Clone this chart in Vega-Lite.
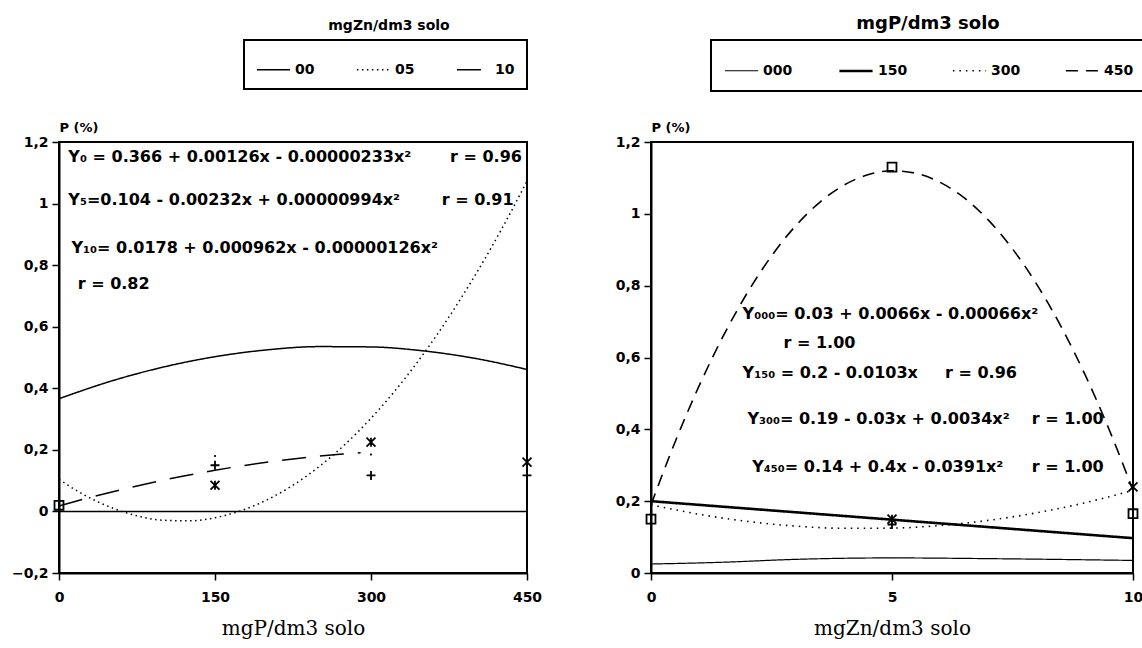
{
  "$schema": "https://vega.github.io/schema/vega-lite/v6.json",
  "background": "white",
  "padding": {"left": 10, "top": 14, "right": 0, "bottom": 0},
  "spacing": 71,
  "resolve": {
    "scale": {"strokeDash": "independent", "strokeWidth": "independent", "shape": "independent"},
    "legend": {"strokeDash": "independent", "strokeWidth": "independent", "shape": "independent"}
  },
  "datasets": {
    "leftLines": [
      {"x": 0, "y": 0.366, "s": "00"}, {"x": 50, "y": 0.4232, "s": "00"}, {"x": 100, "y": 0.4687, "s": "00"},
      {"x": 150, "y": 0.5026, "s": "00"}, {"x": 200, "y": 0.5248, "s": "00"}, {"x": 250, "y": 0.5354, "s": "00"},
      {"x": 300, "y": 0.5343, "s": "00"}, {"x": 350, "y": 0.5216, "s": "00"}, {"x": 400, "y": 0.4972, "s": "00"},
      {"x": 450, "y": 0.4612, "s": "00"},
      {"x": 0, "y": 0.104, "s": "05"}, {"x": 25, "y": 0.0522, "s": "05"}, {"x": 50, "y": 0.0129, "s": "05"},
      {"x": 75, "y": -0.0141, "s": "05"}, {"x": 100, "y": -0.0286, "s": "05"}, {"x": 125, "y": -0.0307, "s": "05"},
      {"x": 150, "y": -0.0204, "s": "05"}, {"x": 175, "y": 0.0024, "s": "05"}, {"x": 200, "y": 0.0376, "s": "05"},
      {"x": 225, "y": 0.0852, "s": "05"}, {"x": 250, "y": 0.1453, "s": "05"}, {"x": 275, "y": 0.2177, "s": "05"},
      {"x": 300, "y": 0.3026, "s": "05"}, {"x": 325, "y": 0.3999, "s": "05"}, {"x": 350, "y": 0.5097, "s": "05"},
      {"x": 375, "y": 0.6318, "s": "05"}, {"x": 400, "y": 0.7664, "s": "05"}, {"x": 425, "y": 0.9134, "s": "05"},
      {"x": 450, "y": 1.0729, "s": "05"},
      {"x": 0, "y": 0.0178, "s": "10"}, {"x": 30, "y": 0.0455, "s": "10"}, {"x": 60, "y": 0.071, "s": "10"},
      {"x": 90, "y": 0.0942, "s": "10"}, {"x": 120, "y": 0.1151, "s": "10"}, {"x": 150, "y": 0.1338, "s": "10"},
      {"x": 180, "y": 0.1501, "s": "10"}, {"x": 210, "y": 0.1643, "s": "10"}, {"x": 240, "y": 0.1761, "s": "10"},
      {"x": 270, "y": 0.1857, "s": "10"}, {"x": 290, "y": 0.1908, "s": "10"}
    ],
    "leftPts": [
      {"x": 0, "y": 0.02, "m": "sq"},
      {"x": 150, "y": 0.15, "m": "plus"}, {"x": 150, "y": 0.18, "m": "dot"}, {"x": 150, "y": 0.085, "m": "ast"},
      {"x": 300, "y": 0.225, "m": "ast"}, {"x": 300, "y": 0.185, "m": "dot"}, {"x": 300, "y": 0.117, "m": "plus"},
      {"x": 450, "y": 0.16, "m": "ast"}, {"x": 450, "y": 0.117, "m": "plus"}
    ],
    "leftText": [
      {"x": 9, "y": 1.15, "t": "Y₀ = 0.366 + 0.00126x - 0.00000233x²"},
      {"x": 376, "y": 1.15, "t": "r = 0.96"},
      {"x": 9, "y": 1.01, "t": "Y₅=0.104 - 0.00232x + 0.00000994x²"},
      {"x": 368, "y": 1.01, "t": "r = 0.91"},
      {"x": 12, "y": 0.855, "t": "Y₁₀= 0.0178 + 0.000962x - 0.00000126x²"},
      {"x": 18, "y": 0.74, "t": "r = 0.82"}
    ],
    "rightLines": [
      {"x": 0, "y": 0.025, "s": "000"}, {"x": 1.5, "y": 0.03, "s": "000"}, {"x": 3, "y": 0.038, "s": "000"},
      {"x": 5, "y": 0.042, "s": "000"}, {"x": 7, "y": 0.04, "s": "000"}, {"x": 10, "y": 0.035, "s": "000"},
      {"x": 0, "y": 0.2, "s": "150"}, {"x": 10, "y": 0.097, "s": "150"},
      {"x": 0, "y": 0.19, "s": "300"}, {"x": 1, "y": 0.1634, "s": "300"}, {"x": 2, "y": 0.1436, "s": "300"},
      {"x": 3, "y": 0.1306, "s": "300"}, {"x": 4, "y": 0.1244, "s": "300"}, {"x": 5, "y": 0.125, "s": "300"},
      {"x": 6, "y": 0.1324, "s": "300"}, {"x": 7, "y": 0.1466, "s": "300"}, {"x": 8, "y": 0.1676, "s": "300"},
      {"x": 9, "y": 0.1954, "s": "300"}, {"x": 10, "y": 0.23, "s": "300"},
      {"x": 0, "y": 0.19, "s": "450"}, {"x": 0.5, "y": 0.3649, "s": "450"}, {"x": 1, "y": 0.5216, "s": "450"},
      {"x": 1.5, "y": 0.6601, "s": "450"}, {"x": 2, "y": 0.7804, "s": "450"}, {"x": 2.5, "y": 0.8825, "s": "450"},
      {"x": 3, "y": 0.9664, "s": "450"}, {"x": 3.5, "y": 1.0321, "s": "450"}, {"x": 4, "y": 1.0796, "s": "450"},
      {"x": 4.5, "y": 1.1089, "s": "450"}, {"x": 5, "y": 1.12, "s": "450"}, {"x": 5.5, "y": 1.1129, "s": "450"},
      {"x": 6, "y": 1.0876, "s": "450"}, {"x": 6.5, "y": 1.0441, "s": "450"}, {"x": 7, "y": 0.9824, "s": "450"},
      {"x": 7.5, "y": 0.9025, "s": "450"}, {"x": 8, "y": 0.8044, "s": "450"}, {"x": 8.5, "y": 0.6881, "s": "450"},
      {"x": 9, "y": 0.5536, "s": "450"}, {"x": 9.5, "y": 0.4009, "s": "450"}, {"x": 10, "y": 0.23, "s": "450"}
    ],
    "rightPts": [
      {"x": 0, "y": 0.15, "m": "sq"},
      {"x": 5, "y": 1.13, "m": "sq"}, {"x": 5, "y": 0.15, "m": "ast"}, {"x": 5, "y": 0.135, "m": "plus"},
      {"x": 10, "y": 0.24, "m": "x"}, {"x": 10, "y": 0.165, "m": "sq"}
    ],
    "rightText": [
      {"x": 1.9, "y": 0.72, "t": "Y₀₀₀= 0.03 + 0.0066x - 0.00066x²"},
      {"x": 2.75, "y": 0.64, "t": "r = 1.00"},
      {"x": 1.9, "y": 0.557, "t": "Y₁₅₀ = 0.2 - 0.0103x"},
      {"x": 6.1, "y": 0.557, "t": "r = 0.96"},
      {"x": 2.0, "y": 0.43, "t": "Y₃₀₀= 0.19 - 0.03x + 0.0034x²"},
      {"x": 7.9, "y": 0.43, "t": "r = 1.00"},
      {"x": 2.1, "y": 0.295, "t": "Y₄₅₀= 0.14 + 0.4x - 0.0391x²"},
      {"x": 7.9, "y": 0.295, "t": "r = 1.00"}
    ],
    "zero": [{"y": 0}]
  },
  "config": {
    "font": "DejaVu Sans",
    "view": {"stroke": "black", "strokeWidth": 2},
    "axis": {
      "grid": false, "domainColor": "black", "domainWidth": 2, "tickColor": "black", "tickWidth": 1.5,
      "tickSize": 7, "labelFont": "DejaVu Sans", "labelFontWeight": "bold", "labelFontSize": 14,
      "labelColor": "black", "titleColor": "black"
    },
    "legend": {
      "orient": "none", "direction": "horizontal", "symbolType": "stroke", "symbolStrokeColor": "black",
      "symbolStrokeWidth": 1.5, "symbolSize": 1100, "labelFont": "DejaVu Sans", "labelFontWeight": "bold",
      "labelFontSize": 14, "labelColor": "black", "labelOffset": 4, "strokeColor": "black", "fillColor": "white"
    }
  },
  "hconcat": [
    {
      "width": 468, "height": 431,
      "title": {"text": "mgZn/dm3 solo", "anchor": "middle", "dx": 96, "offset": 6, "font": "DejaVu Sans", "fontSize": 14, "fontWeight": "bold", "color": "black"},
      "layer": [
        {
          "data": {"name": "leftLines"},
          "mark": {"type": "line", "color": "black", "strokeWidth": 1.5, "interpolate": "monotone"},
          "encoding": {
            "x": {"field": "x", "type": "quantitative", "scale": {"domain": [0, 450], "nice": false},
              "axis": {"values": [0, 150, 300, 450], "title": "mgP/dm3 solo", "titleFont": "DejaVu Serif", "titleFontSize": 20, "titleFontWeight": "normal", "labelPadding": 10, "titlePadding": 14, "labelFlush": false}},
            "y": {"field": "y", "type": "quantitative", "scale": {"domain": [-0.2, 1.2], "nice": false},
              "axis": {"values": [-0.2, 0, 0.2, 0.4, 0.6, 0.8, 1, 1.2], "labelExpr": "replace(format(datum.value, '~g'), '.', ',')", "labelPadding": 4,
                "title": "P (%)", "titleAngle": 0, "titleAlign": "left", "titleBaseline": "bottom", "titleX": 0, "titleY": -8, "titleFont": "DejaVu Sans", "titleFontSize": 13, "titleFontWeight": "bold"}},
            "strokeDash": {"field": "s", "type": "nominal",
              "scale": {"domain": ["00", "05", "10"], "range": [[1, 0], [1.5, 3.5], [24, 14]]},
              "legend": {"title": null, "legendX": 185, "legendY": -102, "padding": 12, "columnPadding": 38,
                "encode": {"legend": {"update": {"strokeWidth": {"value": 2}}}}}}
          }
        },
        {
          "data": {"name": "zero"},
          "mark": {"type": "rule", "color": "black", "strokeWidth": 1.5},
          "encoding": {"y": {"field": "y", "type": "quantitative"}}
        },
        {
          "data": {"name": "leftPts"},
          "mark": {"type": "point", "filled": false, "color": "black", "strokeWidth": 1.8, "size": 80, "opacity": 1},
          "encoding": {
            "x": {"field": "x", "type": "quantitative"},
            "y": {"field": "y", "type": "quantitative"},
            "shape": {"field": "m", "type": "nominal", "legend": null,
              "scale": {"domain": ["sq", "plus", "ast", "dot", "x"],
                "range": ["square", "M-1,0H1M0,-1V1", "M-1,-1L1,1M-1,1L1,-1M0,-1V1", "M-0.15,0H0.15M0,-0.15V0.15", "M-1,-1L1,1M-1,1L1,-1"]}}
          }
        },
        {
          "data": {"name": "leftText"},
          "mark": {"type": "text", "align": "left", "baseline": "middle", "font": "DejaVu Sans", "fontWeight": "bold", "fontSize": 16, "color": "black"},
          "encoding": {
            "x": {"field": "x", "type": "quantitative"},
            "y": {"field": "y", "type": "quantitative"},
            "text": {"field": "t"}
          }
        }
      ]
    },
    {
      "width": 482, "height": 431,
      "title": {"text": "mgP/dm3 solo", "anchor": "middle", "dx": 36, "offset": 6, "font": "DejaVu Sans", "fontSize": 18, "fontWeight": "bold", "color": "black"},
      "layer": [
        {
          "data": {"name": "rightLines"},
          "mark": {"type": "line", "color": "black", "interpolate": "monotone"},
          "encoding": {
            "x": {"field": "x", "type": "quantitative", "scale": {"domain": [0, 10], "nice": false},
              "axis": {"values": [0, 5, 10], "title": "mgZn/dm3 solo", "titleFont": "DejaVu Serif", "titleFontSize": 20, "titleFontWeight": "normal", "labelPadding": 10, "titlePadding": 14, "labelFlush": false}},
            "y": {"field": "y", "type": "quantitative", "scale": {"domain": [0, 1.2], "nice": false},
              "axis": {"values": [0, 0.2, 0.4, 0.6, 0.8, 1, 1.2], "labelExpr": "replace(format(datum.value, '~g'), '.', ',')", "labelPadding": 4,
                "title": "P (%)", "titleAngle": 0, "titleAlign": "left", "titleBaseline": "bottom", "titleX": 0, "titleY": -8, "titleFont": "DejaVu Sans", "titleFontSize": 13, "titleFontWeight": "bold"}},
            "strokeDash": {"field": "s", "type": "nominal",
              "scale": {"domain": ["000", "150", "300", "450"], "range": [[1, 0], [1, 0], [1.5, 5], [12, 8]]},
              "legend": {"title": null, "legendX": 60, "legendY": -102, "padding": 13, "columnPadding": 41,
                "encode": {"legend": {"update": {"strokeWidth": {"value": 2}}}}}},
            "strokeWidth": {"field": "s", "type": "nominal",
              "scale": {"type": "ordinal", "domain": ["000", "150", "300", "450"], "range": [1.2, 2.6, 1.6, 1.6]},
              "legend": {"title": null, "legendX": 60, "legendY": -102, "padding": 13, "columnPadding": 41,
                "encode": {"legend": {"update": {"strokeWidth": {"value": 2}}}}}}
          }
        },
        {
          "data": {"name": "rightPts"},
          "mark": {"type": "point", "filled": false, "color": "black", "strokeWidth": 1.8, "size": 80, "opacity": 1},
          "encoding": {
            "x": {"field": "x", "type": "quantitative"},
            "y": {"field": "y", "type": "quantitative"},
            "shape": {"field": "m", "type": "nominal", "legend": null,
              "scale": {"domain": ["sq", "plus", "ast", "dot", "x"],
                "range": ["square", "M-1,0H1M0,-1V1", "M-1,-1L1,1M-1,1L1,-1M0,-1V1", "M-0.15,0H0.15M0,-0.15V0.15", "M-1,-1L1,1M-1,1L1,-1"]}}
          }
        },
        {
          "data": {"name": "rightText"},
          "mark": {"type": "text", "align": "left", "baseline": "middle", "font": "DejaVu Sans", "fontWeight": "bold", "fontSize": 16, "color": "black"},
          "encoding": {
            "x": {"field": "x", "type": "quantitative"},
            "y": {"field": "y", "type": "quantitative"},
            "text": {"field": "t"}
          }
        }
      ]
    }
  ]
}
